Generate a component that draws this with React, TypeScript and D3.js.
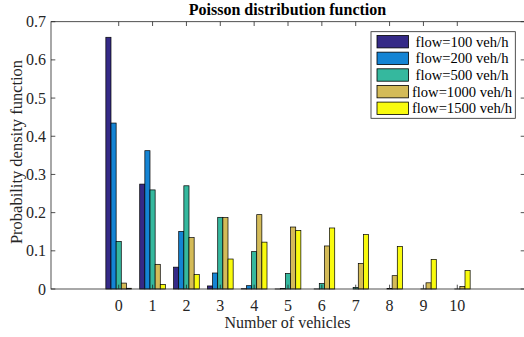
import React from "react";
import * as d3 from "d3";

const categories = [0, 1, 2, 3, 4, 5, 6, 7, 8, 9, 10];
const seriesNames = ["flow=100 veh/h", "flow=200 veh/h", "flow=500 veh/h", "flow=1000 veh/h", "flow=1500 veh/h"];
const flow100 = [0.6592, 0.2747, 0.0572, 0.0080, 0.0008, 0.0001, 0, 0, 0, 0, 0];
const flow200 = [0.4346, 0.3622, 0.1509, 0.0419, 0.0087, 0.0015, 0.0002, 0, 0, 0, 0];
const flow500 = [0.1245, 0.2595, 0.2703, 0.1877, 0.0978, 0.0407, 0.0142, 0.0042, 0.0011, 0.0003, 0.0001];
const flow1000 = [0.0155, 0.0646, 0.1346, 0.1869, 0.1947, 0.1623, 0.1127, 0.0671, 0.0349, 0.0162, 0.0067];
const flow1500 = [0.0019, 0.0121, 0.0377, 0.0785, 0.1227, 0.1534, 0.1598, 0.1426, 0.1114, 0.0774, 0.0484];
const series = [flow100, flow200, flow500, flow1000, flow1500];
const colors = ["#352a87", "#1484d4", "#35b89e", "#d4bb58", "#f9fb0e"];
const xTicks = [0, 1, 2, 3, 4, 5, 6, 7, 8, 9, 10];
const yTicks = [0, 0.1, 0.2, 0.3, 0.4, 0.5, 0.6, 0.7];

const W = 524;
const H = 337;
const left = 51;
const right = 525;
const top = 21.7;
const bottom = 289;
const fontStyle = { fontFamily: "Liberation Serif, serif" };

export default function App() {
  const x = d3.scaleLinear().domain([-2, 12]).range([left, right]);
  const y = d3.scaleLinear().domain([0, 0.7]).range([bottom, top]);
  const slot = 0.152;
  const bw = x(slot) - x(0);
  const tick = 4.3;

  return (
    <div style={{ position: "absolute", left: 0, top: 0 }}>
      <svg width={W} height={H} style={{ display: "block", background: "#fff" }}>
        <rect x={0} y={0} width={W} height={H} fill="#fff" />
        {series.map((vals, si) =>
          vals.map((v, ci) => {
            const cx = x(categories[ci] + (si - 2) * slot) - bw / 2;
            const y0 = y(v);
            return (
              <rect
                key={`${si}-${ci}`}
                x={cx}
                y={y0}
                width={bw}
                height={Math.max(0, bottom - y0)}
                fill={colors[si]}
                stroke="#000"
                strokeWidth={0.7}
              />
            );
          })
        )}
        <rect x={left} y={top} width={right - left} height={bottom - top} fill="none" stroke="#262626" strokeWidth={0.8} />
        {xTicks.map((t) => (
          <g key={`xt${t}`}>
            <line x1={x(t)} x2={x(t)} y1={bottom} y2={bottom - tick} stroke="#262626" strokeWidth={0.8} />
            <line x1={x(t)} x2={x(t)} y1={top} y2={top + tick} stroke="#262626" strokeWidth={0.8} />
            <text x={x(t)} y={311} textAnchor="middle" style={fontStyle} fontSize={16} fill="#262626">
              {t}
            </text>
          </g>
        ))}
        {yTicks.map((t) => (
          <g key={`yt${t}`}>
            <line x1={left} x2={left + tick} y1={y(t)} y2={y(t)} stroke="#262626" strokeWidth={0.8} />
            <line x1={right} x2={right - tick} y1={y(t)} y2={y(t)} stroke="#262626" strokeWidth={0.8} />
            <text x={46} y={y(t)} dy="0.35em" textAnchor="end" style={fontStyle} fontSize={16} fill="#262626">
              {t === 0 ? "0" : d3.format(".1f")(t)}
            </text>
          </g>
        ))}
        <text x={287.5} y={328} textAnchor="middle" style={fontStyle} fontSize={16} fill="#262626">
          Number of vehicles
        </text>
        <text
          transform={`translate(21.5,152) rotate(-90)`}
          textAnchor="middle"
          style={fontStyle}
          fontSize={16.5}
          fill="#262626"
        >
          Probability density function
        </text>
        <text x={287.5} y={14.5} textAnchor="middle" style={fontStyle} fontSize={16} fontWeight="bold" fill="#000">
          Poisson distribution function
        </text>
        <rect x={371} y={31.7} width={144.3} height={86.6} fill="#fff" stroke="#262626" strokeWidth={0.8} />
        {seriesNames.map((name, i) => {
          const cy = 41.7 + i * 16.65;
          return (
            <g key={name}>
              <rect x={377} y={cy - 6.2} width={31.5} height={12.4} fill={colors[i]} stroke="#000" strokeWidth={0.8} />
              <text x={462} y={cy} dy="0.35em" textAnchor="middle" style={fontStyle} fontSize={14.6} fill="#000">
                {name}
              </text>
            </g>
          );
        })}
      </svg>
    </div>
  );
}
